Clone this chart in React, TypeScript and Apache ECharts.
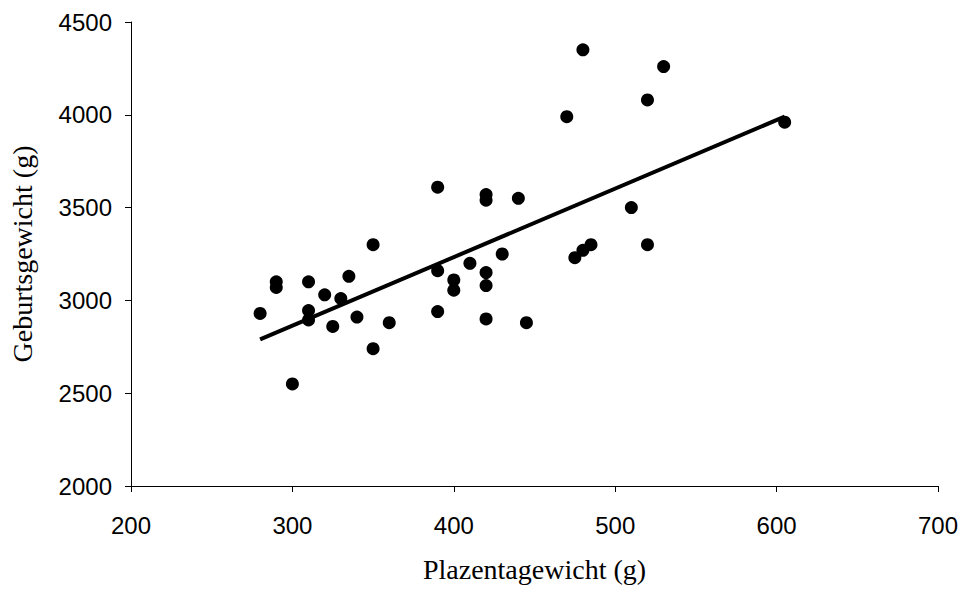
import React, { useEffect, useRef } from "react";
import * as echarts from "echarts";

const placentaWeights = [280, 290, 290, 300, 310, 310, 310, 320, 325, 330, 335, 340, 350, 350, 360, 390, 390, 390, 400, 400, 410, 420, 420, 420, 420, 420, 430, 440, 445, 470, 475, 480, 480, 485, 510, 520, 520, 530, 605];
const birthWeights = [2930, 3100, 3070, 2550, 3100, 2945, 2895, 3030, 2860, 3010, 3130, 2910, 3300, 2740, 2880, 3610, 3160, 2940, 3110, 3055, 3200, 3570, 3540, 3150, 3080, 2900, 3250, 3550, 2880, 3990, 3230, 3270, 4350, 3300, 3500, 4080, 3300, 4260, 3960];
const trendX = [280, 605];
const trendY = [2790, 3990];

export default function App() {
  const ref = useRef<HTMLDivElement>(null);
  useEffect(() => {
    if (!ref.current) return;
    const chart = echarts.init(ref.current, null, { renderer: "svg" });
    const axisCommon = {
      axisLine: { show: true, lineStyle: { color: "#000", width: 1 } },
      axisTick: { show: true, inside: false, length: 6, lineStyle: { color: "#000", width: 1 } },
      splitLine: { show: false },
      nameLocation: "middle" as const,
      nameTextStyle: { fontFamily: "Liberation Serif", fontSize: 28, color: "#000" },
    };
    chart.setOption({
      animation: false,
      backgroundColor: "#fff",
      grid: { left: 131, right: 25, top: 22, bottom: 106 },
      xAxis: {
        type: "value",
        min: 200,
        max: 700,
        interval: 100,
        name: "Plazentagewicht (g)",
        nameGap: 69,
        ...axisCommon,
        axisLabel: { margin: 27, fontFamily: "Liberation Sans", fontSize: 24, color: "#000", formatter: (v: number) => String(v) },
      },
      yAxis: {
        type: "value",
        min: 2000,
        max: 4500,
        interval: 500,
        name: "Geburtsgewicht (g)",
        nameGap: 95,
        ...axisCommon,
        axisLabel: { margin: 19, fontFamily: "Liberation Sans", fontSize: 24, color: "#000", formatter: (v: number) => String(v) },
      },
      series: [
        {
          type: "scatter",
          data: placentaWeights.map((x, i) => [x, birthWeights[i]]),
          symbol: "circle",
          symbolSize: 13,
          itemStyle: { color: "#000", opacity: 1 },
        },
        {
          type: "line",
          data: trendX.map((x, i) => [x, trendY[i]]),
          showSymbol: false,
          symbol: "none",
          lineStyle: { color: "#000", width: 4 },
        },
      ],
    });
    return () => chart.dispose();
  }, []);
  return <div ref={ref} style={{ width: 963, height: 592, position: "absolute", left: 0, top: 0 }} />;
}
